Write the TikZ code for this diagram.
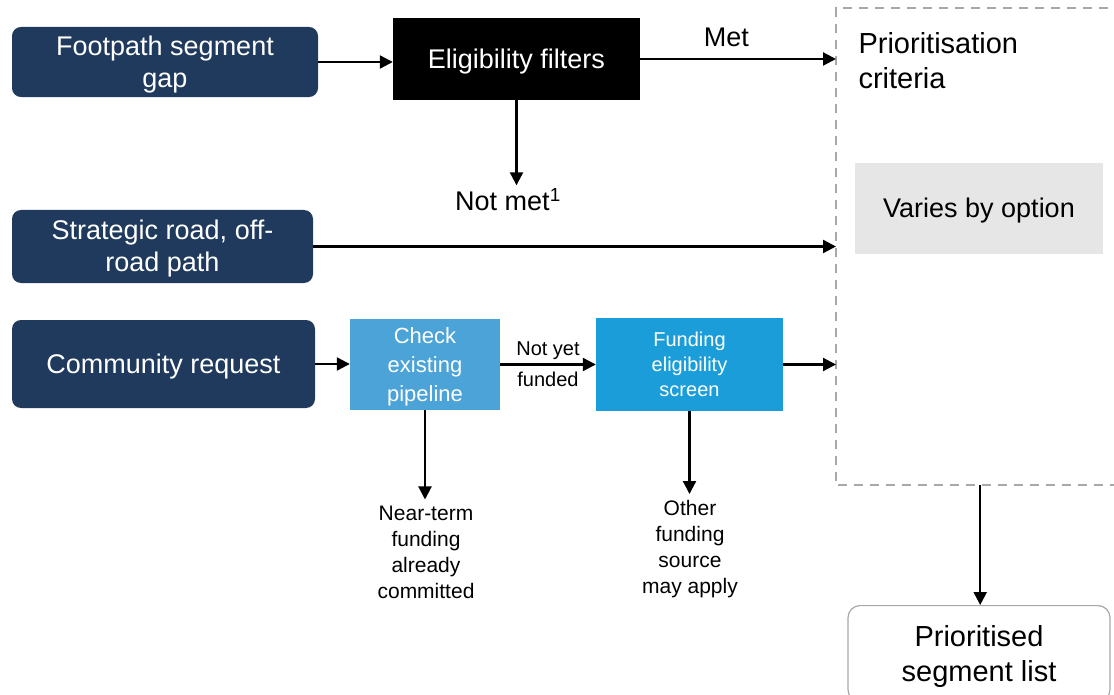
\documentclass[tikz,border=0pt]{standalone}
\usepackage{fontspec}
\setmainfont{Liberation Sans}
\usepackage{tikz}
\usetikzlibrary{positioning,arrows.meta,calc}

\definecolor{navy}{HTML}{1F3A5D}
\definecolor{paleblue}{HTML}{4BA3D7}
\definecolor{midblue}{HTML}{1B9DD9}
\definecolor{critgrey}{HTML}{A8A8A8}
\definecolor{fillgrey}{HTML}{E6E6E6}

% line strut so box text sits on the cap middle
\newcommand{\capstrut}{\rule[-0.19em]{0pt}{1.095em}}

\begin{document}
\begin{tikzpicture}[x=1pt, y=-1pt,
    box/.style={align=center, inner sep=4pt, text=white,
                font=\fontsize{27}{32}\selectfont},
    navybox/.style={box, fill=navy, rounded corners=9pt},
    blackbox/.style={box, fill=black},
    checkbox/.style={box, fill=paleblue, font=\fontsize{22}{29}\selectfont},
    fundbox/.style={box, fill=midblue, font=\fontsize{20}{25}\selectfont},
    lbl/.style={align=center, font=\fontsize{21}{26}\selectfont},
    critline/.style={draw=critgrey, line width=2pt, dash pattern=on 9pt off 7pt},
    arr/.style={-{Triangle[length=13pt,width=13pt]}, line width=2.2pt}
  ]
    \useasboundingbox (0,0) rectangle (1114,695);

    % inputs
    \node[navybox, minimum width=306pt, minimum height=70pt] (foot) at (165,62) {\capstrut Footpath segment\\gap\capstrut};
    \node[navybox, minimum width=301pt, minimum height=73pt] (strat) at (162.5,246.5) {\capstrut Strategic road, off-\\road path\capstrut};
    \node[navybox, minimum width=303pt, minimum height=88pt] (comm) at (163.5,364) {\capstrut Community request\capstrut};

    % checks
    \node[blackbox, minimum width=247pt, minimum height=82pt] (filt) at (516.5,59) {\capstrut Eligibility filters\capstrut};
    \node[checkbox, minimum width=150pt, minimum height=91pt] (check) at (425,364.5) {\capstrut Check\\existing\\pipeline\capstrut};
    \node[fundbox, minimum width=187pt, minimum height=93pt] (fund) at (689.5,364.5) {\capstrut Funding\\eligibility\\screen\capstrut};

    \node[font=\fontsize{27}{32}\selectfont] (notmet) at (508,200) {Not met\textsuperscript{1}};
    \node[lbl, inner sep=6pt] (near) at (426,552) {Near-term\\funding\\already\\committed};
    \node[lbl, inner sep=6pt] (other) at (690,549) {Other\\funding\\source\\may apply};

    % prioritisation criteria (open to the right)
    \node[minimum width=288pt, minimum height=477pt, anchor=north west] (crit) at (836,8) {};
    \draw[critline] (crit.north east) -- (crit.north west) -- (crit.south west) -- (crit.south east);
    \node[align=left, anchor=west, font=\fontsize{29}{35}\selectfont] (crittitle) at (855,60.5) {Prioritisation\\criteria};
    \node[box, text=black, fill=fillgrey, minimum width=248pt, minimum height=91pt] (varies) at (979,208.5) {\capstrut Varies by option\capstrut};

    \node[box, text=black, draw=critgrey, line width=1.2pt, rounded corners=12pt,
          minimum width=262pt, minimum height=96pt, anchor=north,
          font=\fontsize{29}{35}\selectfont] (list) at (979,605) {\capstrut Prioritised\\segment list\capstrut};

    % connectors
    \draw[arr] (foot.east) -- (filt.west |- foot.east);
    \draw[arr] (filt.east) -- node[pos=0.44, above=8pt, font=\fontsize{27}{32}\selectfont] {Met} (filt.east -| crit.west);
    \draw[arr] (filt.south) -- (filt.south |- notmet.north);
    \draw[arr] (strat.east) -- (strat.east -| crit.west);
    \draw[arr] (comm.east) -- (check.west |- comm.east);
    \draw[arr] (check.east) -- node[above, font=\fontsize{20}{25}\selectfont] {Not yet}
        node[below=3pt, font=\fontsize{20}{25}\selectfont] {funded} (fund.west |- check.east);
    \draw[arr] (fund.east) -- (fund.east -| crit.west);
    \draw[arr] (check.south) -- (check.south |- near.north);
    \draw[arr] (fund.south) -- (fund.south |- other.north);
    \draw[arr] (crit.south) -- (crit.south |- list.north);
\end{tikzpicture}
\end{document}
